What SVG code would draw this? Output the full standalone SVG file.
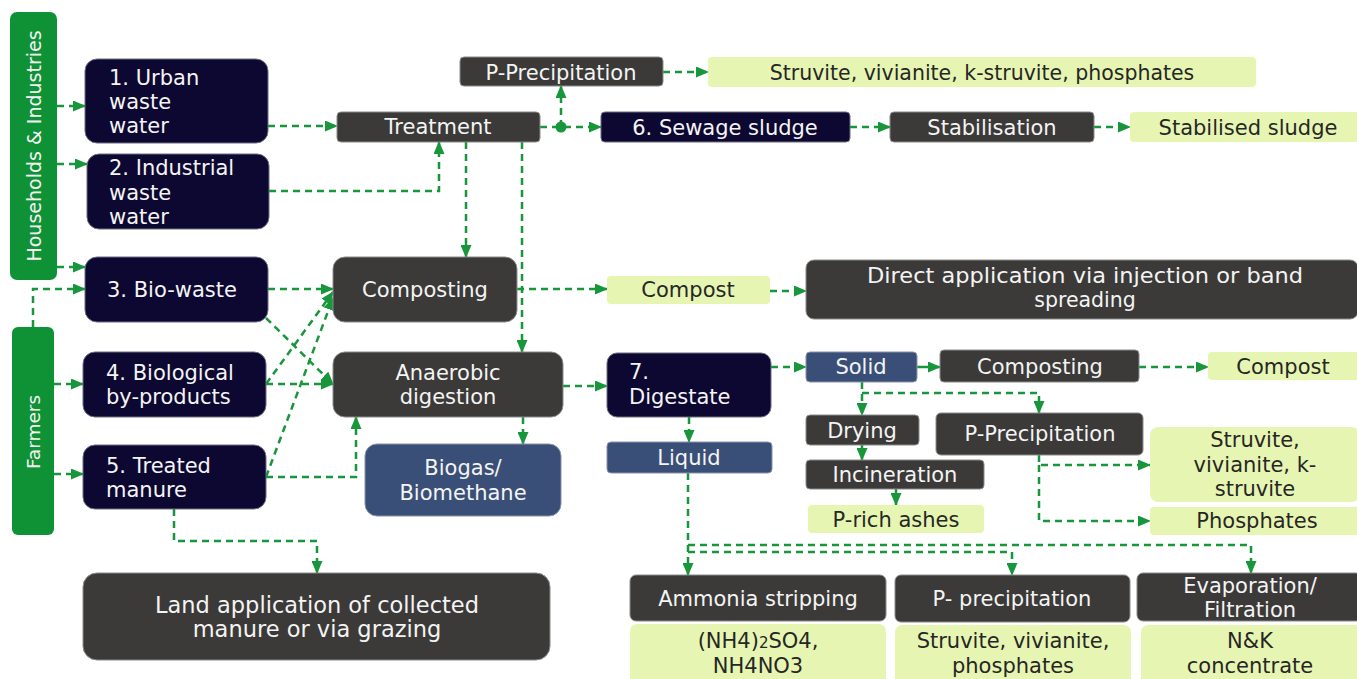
<svg xmlns="http://www.w3.org/2000/svg" width="1357" height="679" viewBox="0 0 1357 679">
<defs>
<style>
.nv{fill:#0d0831;stroke:#6d6d80;stroke-width:1}
.dg{fill:#3b3a38;stroke:#8a8a8a;stroke-width:1}
.sb{fill:#3a4f78;stroke:#8a93a8;stroke-width:1}
.lg{fill:#e6f6b2}
.gb{fill:#0f9236}
text{font-family:"DejaVu Sans","Liberation Sans",sans-serif;font-size:21px}
.w{fill:#f4f4f4}
.d{fill:#262626}
.c{text-anchor:middle}
.cn path{fill:none;stroke:#17963b;stroke-width:2.5;stroke-dasharray:7 5}
.cn path.a{marker-end:url(#ah)}
</style>
<marker id="ah" markerWidth="13" markerHeight="11" refX="12" refY="5.5" orient="auto" markerUnits="userSpaceOnUse">
<path d="M0,0 L13,5.5 L0,11 z" fill="#17963b"/>
</marker>
</defs>
<rect width="1357" height="679" fill="#ffffff"/>

<g class="cn" id="connectors">
<path class="a" d="M57,106 H85"/>
<path class="a" d="M57,164 H87"/>
<path class="a" d="M57,267 H85"/>
<path class="a" d="M33,327 V289 H85"/>
<path class="a" d="M54,384 H83"/>
<path class="a" d="M54,474 H83"/>
<path class="a" d="M268,126 H337"/>
<path class="a" d="M269,191 H439 V142"/>
<path class="a" d="M540,127 H601"/>
<path class="a" d="M561,127 V86"/>
<path class="a" d="M663,72 H708"/>
<path class="a" d="M850,127 H890"/>
<path class="a" d="M1094,127 H1130"/>
<path class="a" d="M466,142 V257"/>
<path class="a" d="M522,142 V352"/>
<path class="a" d="M268,289 H333"/>
<path class="a" d="M266,318 L333,384"/>
<path class="a" d="M266,384 L333,292"/>
<path class="a" d="M266,384 H333"/>
<path class="a" d="M266,477 L333,298"/>
<path class="a" d="M266,477 H356 V417"/>
<path class="a" d="M174,509 V541 H317 V573"/>
<path class="a" d="M523,417 V444"/>
<path class="a" d="M563,386 H607"/>
<path class="a" d="M517,289 H607"/>
<path class="a" d="M770,291 H806"/>
<path class="a" d="M771,367 H806"/>
<path class="a" d="M917,367 H940" style="stroke-dasharray:none"/>
<path class="a" d="M1139,367 H1208"/>
<path class="a" d="M689,417 V442"/>
<path class="a" d="M862,382 V415"/>
<path class="a" d="M862,393 H1039 V413"/>
<path class="a" d="M862,445 V460"/>
<path class="a" d="M896,489 V505"/>
<path class="a" d="M1039,455 V465 H1150"/>
<path class="a" d="M1039,465 V521 H1150"/>
<path class="a" d="M688,473 V575"/>
<path class="a" d="M688,545 H1251 V573"/>
<path class="a" d="M688,552 H1012 V575"/>
<circle cx="561" cy="127" r="5.5" fill="#17963b"/>
</g>

<g id="households">
<rect class="gb" x="10" y="12" width="47" height="268" rx="7"/>
<text class="w c" transform="translate(41,146) rotate(-90)" style="font-size:19px">Households &amp; Industries</text>
</g>
<g id="farmers">
<rect class="gb" x="12" y="327" width="42" height="208" rx="6"/>
<text class="w c" transform="translate(40,432) rotate(-90)" style="font-size:18.5px">Farmers</text>
</g>

<g id="n1"><rect class="nv" x="85" y="59" width="183" height="84" rx="12"/>
<text class="w" x="109" y="85">1. Urban</text><text class="w" x="109" y="109">waste</text><text class="w" x="109" y="133">water</text></g>
<g id="n2"><rect class="nv" x="87" y="154" width="182" height="75" rx="12"/>
<text class="w" x="109" y="175">2. Industrial</text><text class="w" x="109" y="200">waste</text><text class="w" x="109" y="224">water</text></g>
<g id="n3"><rect class="nv" x="85" y="257" width="183" height="65" rx="12"/>
<text class="w" x="107" y="297">3. Bio-waste</text></g>
<g id="n4"><rect class="nv" x="83" y="352" width="183" height="65" rx="12"/>
<text class="w" x="106" y="380">4. Biological</text><text class="w" x="106" y="404">by-products</text></g>
<g id="n5"><rect class="nv" x="83" y="445" width="183" height="64" rx="12"/>
<text class="w" x="106" y="473">5. Treated</text><text class="w" x="106" y="497">manure</text></g>

<g id="treatment"><rect class="dg" x="337" y="112" width="203" height="30" rx="4"/>
<text class="w c" x="438" y="134">Treatment</text></g>
<g id="pprecip1"><rect class="dg" x="460" y="57" width="203" height="29" rx="4"/>
<text class="w c" x="561" y="80">P-Precipitation</text></g>
<g id="struvite1"><rect class="lg" x="708" y="57" width="548" height="30" rx="4"/>
<text class="d c" x="982" y="80" style="font-size:20.5px">Struvite, vivianite, k-struvite, phosphates</text></g>
<g id="n6"><rect class="nv" x="601" y="112" width="249" height="30" rx="4"/>
<text class="w c" x="725" y="135">6. Sewage sludge</text></g>
<g id="stabilisation"><rect class="dg" x="890" y="112" width="204" height="30" rx="4"/>
<text class="w c" x="992" y="135">Stabilisation</text></g>
<g id="stabilised"><rect class="lg" x="1130" y="112" width="232" height="30" rx="4"/>
<text class="d c" x="1248" y="135">Stabilised sludge</text></g>

<g id="composting1"><rect class="dg" x="333" y="257" width="184" height="65" rx="12"/>
<text class="w c" x="425" y="297">Composting</text></g>
<g id="anaerobic"><rect class="dg" x="333" y="352" width="230" height="65" rx="12"/>
<text class="w c" x="448" y="380">Anaerobic</text><text class="w c" x="448" y="404">digestion</text></g>
<g id="biogas"><rect class="sb" x="365" y="444" width="196" height="72" rx="12"/>
<text class="w c" x="463" y="475">Biogas/</text><text class="w c" x="463" y="500">Biomethane</text></g>
<g id="land"><rect class="dg" x="83" y="573" width="467" height="87" rx="14"/>
<text class="w c" x="317" y="613" style="font-size:22.5px">Land application of collected</text><text class="w c" x="317" y="637" style="font-size:22.5px">manure or via grazing</text></g>

<g id="compost1"><rect class="lg" x="607" y="276" width="163" height="28" rx="4"/>
<text class="d c" x="688" y="297">Compost</text></g>
<g id="direct"><rect class="dg" x="806" y="260" width="552" height="59" rx="8"/>
<text class="w c" x="1085" y="283" style="font-size:20.5px" textLength="436" lengthAdjust="spacingAndGlyphs">Direct application via injection or band</text><text class="w c" x="1085" y="307" style="font-size:20.5px">spreading</text></g>

<g id="n7"><rect class="nv" x="607" y="353" width="164" height="64" rx="10"/>
<text class="w" x="629" y="379">7.</text><text class="w" x="629" y="404">Digestate</text></g>
<g id="solid"><rect class="sb" x="806" y="352" width="111" height="30" rx="4"/>
<text class="w c" x="861" y="374">Solid</text></g>
<g id="composting2"><rect class="dg" x="940" y="350" width="199" height="32" rx="4"/>
<text class="w c" x="1040" y="374">Composting</text></g>
<g id="compost2"><rect class="lg" x="1208" y="352" width="152" height="28" rx="4"/>
<text class="d c" x="1283" y="374">Compost</text></g>
<g id="liquid"><rect class="sb" x="607" y="442" width="165" height="31" rx="4"/>
<text class="w c" x="689" y="465">Liquid</text></g>
<g id="drying"><rect class="dg" x="806" y="415" width="113" height="30" rx="4"/>
<text class="w c" x="862" y="438">Drying</text></g>
<g id="incineration"><rect class="dg" x="806" y="460" width="178" height="29" rx="4"/>
<text class="w c" x="895" y="482">Incineration</text></g>
<g id="ashes"><rect class="lg" x="808" y="505" width="176" height="28" rx="4"/>
<text class="d c" x="896" y="527">P-rich ashes</text></g>
<g id="pprecip2"><rect class="dg" x="936" y="413" width="207" height="42" rx="5"/>
<text class="w c" x="1040" y="441">P-Precipitation</text></g>
<g id="struvite2"><rect class="lg" x="1150" y="427" width="210" height="75" rx="8"/>
<text class="d c" x="1255" y="447">Struvite,</text><text class="d c" x="1255" y="472">vivianite, k-</text><text class="d c" x="1255" y="496">struvite</text></g>
<g id="phosphates"><rect class="lg" x="1150" y="507" width="210" height="28" rx="4"/>
<text class="d c" x="1257" y="528">Phosphates</text></g>

<g id="ammonia"><rect class="dg" x="630" y="575" width="256" height="46" rx="6"/>
<text class="w c" x="758" y="606">Ammonia stripping</text></g>
<g id="pprecip3"><rect class="dg" x="895" y="575" width="235" height="47" rx="6"/>
<text class="w c" x="1012" y="606">P- precipitation</text></g>
<g id="evaporation"><rect class="dg" x="1137" y="573" width="225" height="48" rx="6"/>
<text class="w c" x="1250" y="593">Evaporation/</text><text class="w c" x="1250" y="617">Filtration</text></g>
<g id="res1"><rect class="lg" x="630" y="624" width="256" height="62" rx="7"/>
<text class="d c" x="758" y="648">(NH4)<tspan style="font-size:15px">2</tspan>SO4,</text><text class="d c" x="758" y="673">NH4NO3</text></g>
<g id="res2"><rect class="lg" x="895" y="625" width="236" height="61" rx="7"/>
<text class="d c" x="1013" y="648">Struvite, vivianite,</text><text class="d c" x="1013" y="673">phosphates</text></g>
<g id="res3"><rect class="lg" x="1141" y="625" width="221" height="61" rx="7"/>
<text class="d c" x="1250" y="648">N&amp;K</text><text class="d c" x="1250" y="673">concentrate</text></g>
</svg>
